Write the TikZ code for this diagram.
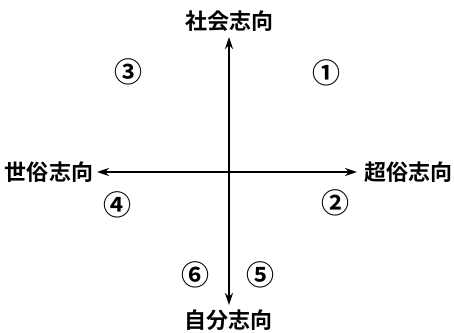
\documentclass[tikz,border=0pt]{standalone}
\usepackage{fontspec}
\newfontfamily\cjk{Noto Sans CJK JP Bold}
\usetikzlibrary{arrows.meta}
\begin{document}
\begin{tikzpicture}[x=1pt,y=-1pt,
  axislabel/.style={font=\cjk\fontsize{22}{22}\selectfont, inner sep=0pt},
  region/.style={font=\cjk\fontsize{28}{28}\selectfont, inner sep=0pt},
  axis/.style={line width=2.3pt, -{Stealth[length=12pt,width=8pt]}}]
\useasboundingbox (0,0) rectangle (454,332);
\coordinate (c) at (229,172);
\coordinate (top) at (229,37);
\coordinate (bot) at (229,305);
\coordinate (lft) at (97,172);
\coordinate (rgt) at (357,172);
\node[axislabel] (lt) at (229,21) {社会志向};
\node[axislabel] (lb) at (228,320) {自分志向};
\node[axislabel] (ll) at (49,172) {世俗志向};
\node[axislabel] (lr) at (408,172) {超俗志向};
\draw[axis] (c) -- (top);
\draw[axis] (c) -- (bot);
\draw[axis] (c) -- (lft);
\draw[axis] (c) -- (rgt);
\node[region] (r1) at (326,73) {①};
\node[region] (r2) at (335,203) {②};
\node[region] (r3) at (128,72) {③};
\node[region] (r4) at (117,205) {④};
\node[region] (r5) at (260,275) {⑤};
\node[region] (r6) at (195,275) {⑥};
\end{tikzpicture}
\end{document}
